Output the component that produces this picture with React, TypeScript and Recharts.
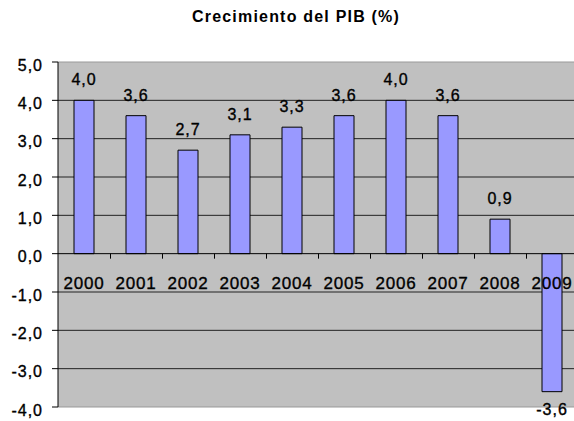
import React from 'react';
import {
  Bar,
  BarChart,
  CartesianGrid,
  LabelList,
  ReferenceLine,
  XAxis,
  YAxis,
} from 'recharts';

const years = ['2000', '2001', '2002', '2003', '2004', '2005', '2006', '2007', '2008', '2009'];
const growth = [4.0, 3.6, 2.7, 3.1, 3.3, 3.6, 4.0, 3.6, 0.9, -3.6];
const yTicks = [5, 4, 3, 2, 1, 0, -1, -2, -3, -4];
const gridValues = [4, 3, 2, 1, -1, -2, -3];

const data = years.map((year, i) => ({ year, value: growth[i] }));

const W = 574;
const H = 421;
const PLOT_TOP = 62;
const PLOT_BOTTOM = 407;
const Y_MAX = 5;
const Y_MIN = -4;
const BAND = 52;
const FONT = '"Liberation Sans", Arial, sans-serif';

const zeroY = PLOT_TOP + ((Y_MAX - 0) / (Y_MAX - Y_MIN)) * (PLOT_BOTTOM - PLOT_TOP);

const fmt = (v: number) => v.toFixed(1).replace('.', ',');

function CategoryTick(props: any) {
  const { x, payload } = props;
  const i = years.indexOf(String(payload.value));
  const tx = Math.round(x + BAND / 2) + 0.5;
  return (
    <g>
      {i < years.length - 1 && (
        <line x1={tx} x2={tx} y1={zeroY} y2={zeroY + 5} stroke="#000" strokeWidth={1} />
      )}
      <text
        x={x}
        y={zeroY + 35}
        textAnchor="middle"
        fontFamily={FONT}
        fontSize={17}
        letterSpacing={0.8}
        fill="#000"
        stroke="#000"
        strokeWidth={0.35}
      >
        {payload.value}
      </text>
    </g>
  );
}

function ValueLabel(props: any) {
  const { x, y, width, height, value } = props;
  const top = Math.min(y, y + height);
  const bottom = Math.max(y, y + height);
  const ty = value < 0 ? bottom + 23 : top - 15;
  return (
    <text
      x={x + width / 2}
      y={ty}
      textAnchor="middle"
      fontFamily={FONT}
      fontSize={16}
      letterSpacing={1}
      fill="#000"
      stroke="#000"
      strokeWidth={0.35}
    >
      {fmt(value)}
    </text>
  );
}

export default function App() {
  return (
    <div style={{ position: 'absolute', left: 0, top: 0, width: W, height: H, background: '#fff', overflow: 'hidden' }}>
      <div
        style={{
          position: 'absolute',
          left: 96,
          width: 400,
          top: 8,
          textAlign: 'center',
          fontFamily: FONT,
          fontSize: 16,
          fontWeight: 'bold',
          letterSpacing: 1.2,
          color: '#000',
        }}
      >
        Crecimiento del PIB (%)
      </div>
      <BarChart
        width={W}
        height={H}
        data={data}
        margin={{ top: PLOT_TOP, right: -4, bottom: H - PLOT_BOTTOM - 1, left: 0 }}
        barCategoryGap={16}
      >
        <CartesianGrid
          vertical={false}
          horizontalValues={gridValues}
          stroke="#222"
          fill="#C0C0C0"
          fillOpacity={1}
        />
        <ReferenceLine y={Y_MAX} stroke="#999" />
        <ReferenceLine y={Y_MIN} stroke="#999" />
        <ReferenceLine y={0} stroke="#000" />
        <XAxis
          dataKey="year"
          height={1}
          axisLine={false}
          tickLine={false}
          tick={<CategoryTick />}
          interval={0}
        />
        <YAxis
          domain={[Y_MIN, Y_MAX]}
          ticks={yTicks}
          interval={0}
          width={58}
          tickFormatter={fmt}
          axisLine={{ stroke: '#000' }}
          tickLine={{ stroke: '#000' }}
          tickSize={6}
          tickMargin={9}
          tick={{ fontFamily: FONT, fontSize: 16, fill: '#000', stroke: '#000', strokeWidth: 0.35, letterSpacing: 1, dy: 3 }}
        />
        <Bar dataKey="value" fill="#9999FF" stroke="#000" strokeWidth={1} isAnimationActive={false}>
          <LabelList dataKey="value" content={<ValueLabel />} />
        </Bar>
      </BarChart>
    </div>
  );
}
